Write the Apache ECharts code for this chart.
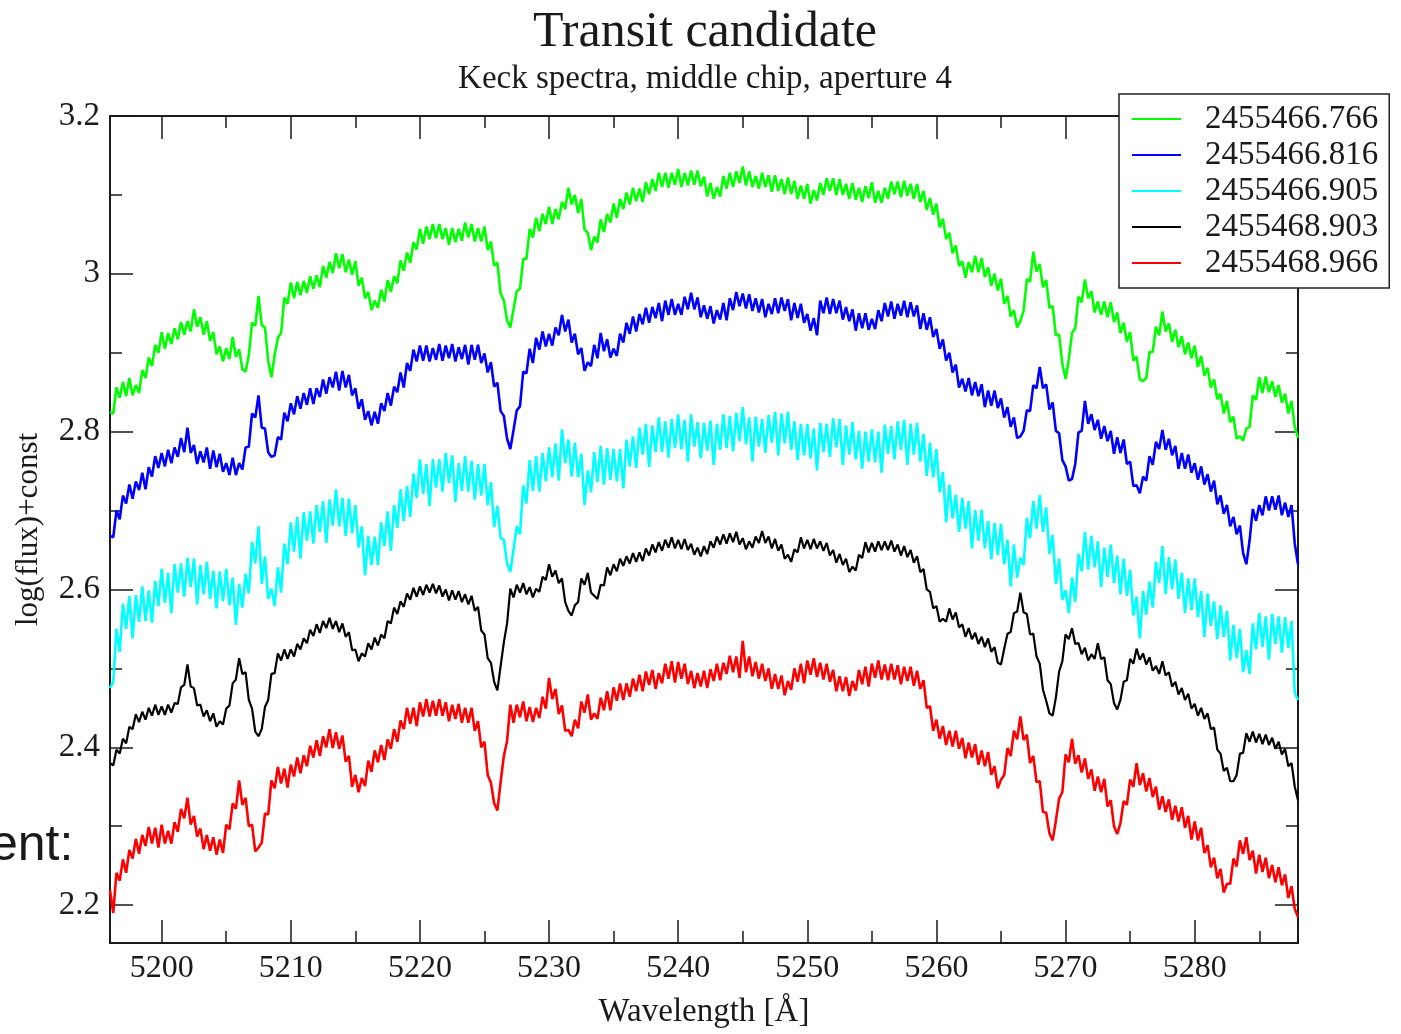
<!DOCTYPE html>
<html>
<head>
<meta charset="utf-8">
<title>Transit candidate</title>
<script src="https://cdn.jsdelivr.net/npm/echarts@6/dist/echarts.min.js"></script>
<style>
  html, body { margin: 0; padding: 0; background: #fff; }
  #chart { width: 1401px; height: 1034px; }
</style>
</head>
<body>
<div id="chart"></div>
<script>
// Spectra sampled every 0.25 Å from 5196 Å to 5288 Å (369 samples each).
const lambdaStart = 5196;
const lambdaStep = 0.25;

const seriesNames = ['2455466.766', '2455466.816', '2455466.905', '2455468.903', '2455468.966'];
const seriesColors = ['#00ff00', '#0000ff', '#00ffff', '#000000', '#ff0000'];

// log(flux)+const, JD 2455466.766 (one row = 5 Å)
const flux766 = [
  2.825, 2.823, 2.856, 2.843, 2.863, 2.845, 2.868, 2.846, 2.859, 2.849, 2.878, 2.868, 2.894, 2.883, 2.910, 2.900, 2.926, 2.905, 2.925, 2.911,
  2.931, 2.917, 2.939, 2.923, 2.940, 2.927, 2.955, 2.933, 2.945, 2.923, 2.940, 2.915, 2.926, 2.898, 2.908, 2.889, 2.906, 2.892, 2.920, 2.895,
  2.904, 2.879, 2.876, 2.897, 2.938, 2.934, 2.972, 2.935, 2.932, 2.890, 2.869, 2.897, 2.919, 2.925, 2.970, 2.962, 2.989, 2.969, 2.990, 2.973,
  2.991, 2.976, 2.997, 2.981, 2.998, 2.983, 3.010, 2.995, 3.015, 3.001, 3.026, 3.007, 3.025, 3.002, 3.018, 2.999, 3.016, 2.985, 2.995, 2.969,
  2.977, 2.954, 2.966, 2.957, 2.980, 2.965, 2.992, 2.977, 2.997, 2.988, 3.017, 3.004, 3.027, 3.014, 3.040, 3.031, 3.057, 3.038, 3.060, 3.044,
  3.063, 3.045, 3.063, 3.044, 3.058, 3.037, 3.058, 3.040, 3.057, 3.042, 3.065, 3.046, 3.063, 3.041, 3.058, 3.041, 3.060, 3.030, 3.041, 3.010,
  3.014, 2.975, 2.966, 2.941, 2.932, 2.955, 2.978, 2.981, 3.019, 3.019, 3.057, 3.046, 3.071, 3.054, 3.076, 3.063, 3.085, 3.063, 3.082, 3.069,
  3.091, 3.082, 3.109, 3.088, 3.100, 3.077, 3.095, 3.056, 3.052, 3.030, 3.047, 3.040, 3.069, 3.053, 3.076, 3.065, 3.089, 3.071, 3.095, 3.082,
  3.103, 3.088, 3.109, 3.092, 3.108, 3.091, 3.116, 3.101, 3.120, 3.105, 3.128, 3.110, 3.128, 3.109, 3.128, 3.113, 3.133, 3.110, 3.128, 3.112,
  3.131, 3.113, 3.131, 3.111, 3.123, 3.098, 3.115, 3.095, 3.110, 3.098, 3.124, 3.108, 3.128, 3.110, 3.130, 3.115, 3.136, 3.112, 3.130, 3.110,
  3.124, 3.108, 3.128, 3.110, 3.125, 3.104, 3.125, 3.105, 3.120, 3.101, 3.122, 3.101, 3.118, 3.095, 3.112, 3.095, 3.114, 3.089, 3.106, 3.093,
  3.115, 3.100, 3.121, 3.105, 3.121, 3.100, 3.120, 3.100, 3.114, 3.095, 3.115, 3.094, 3.109, 3.091, 3.111, 3.096, 3.116, 3.090, 3.105, 3.090,
  3.109, 3.095, 3.117, 3.101, 3.117, 3.097, 3.118, 3.099, 3.114, 3.095, 3.114, 3.091, 3.105, 3.081, 3.096, 3.075, 3.089, 3.059, 3.070, 3.044,
  3.052, 3.026, 3.036, 3.010, 3.016, 2.995, 3.015, 3.002, 3.023, 3.002, 3.020, 2.996, 3.008, 2.985, 3.000, 2.979, 2.994, 2.962, 2.972, 2.946,
  2.954, 2.932, 2.940, 2.953, 2.993, 2.990, 3.028, 3.003, 3.012, 2.983, 2.992, 2.957, 2.959, 2.922, 2.923, 2.886, 2.867, 2.891, 2.925, 2.931,
  2.971, 2.964, 2.993, 2.969, 2.978, 2.951, 2.965, 2.948, 2.965, 2.945, 2.964, 2.939, 2.951, 2.925, 2.938, 2.914, 2.926, 2.890, 2.895, 2.866,
  2.864, 2.868, 2.901, 2.901, 2.933, 2.922, 2.952, 2.927, 2.937, 2.914, 2.929, 2.907, 2.921, 2.898, 2.913, 2.893, 2.909, 2.882, 2.896, 2.871,
  2.881, 2.856, 2.866, 2.841, 2.848, 2.823, 2.839, 2.812, 2.819, 2.791, 2.794, 2.789, 2.804, 2.806, 2.846, 2.840, 2.869, 2.849, 2.870, 2.850,
  2.864, 2.844, 2.859, 2.837, 2.848, 2.823, 2.839, 2.806, 2.792
];

// log(flux)+const, JD 2455466.816
const flux816 = [
  2.668, 2.666, 2.700, 2.689, 2.719, 2.709, 2.733, 2.715, 2.737, 2.726, 2.748, 2.727, 2.755, 2.743, 2.769, 2.754, 2.773, 2.756, 2.777, 2.760,
  2.780, 2.768, 2.792, 2.774, 2.805, 2.773, 2.783, 2.759, 2.775, 2.761, 2.780, 2.753, 2.776, 2.755, 2.772, 2.749, 2.760, 2.745, 2.767, 2.745,
  2.760, 2.752, 2.780, 2.781, 2.823, 2.818, 2.846, 2.805, 2.804, 2.774, 2.768, 2.770, 2.793, 2.790, 2.824, 2.813, 2.836, 2.822, 2.845, 2.829,
  2.849, 2.834, 2.855, 2.835, 2.855, 2.844, 2.866, 2.848, 2.869, 2.856, 2.876, 2.852, 2.877, 2.856, 2.872, 2.846, 2.855, 2.829, 2.841, 2.815,
  2.826, 2.808, 2.825, 2.810, 2.836, 2.826, 2.849, 2.833, 2.857, 2.850, 2.875, 2.856, 2.887, 2.877, 2.904, 2.889, 2.909, 2.890, 2.909, 2.889,
  2.906, 2.891, 2.911, 2.890, 2.909, 2.893, 2.911, 2.889, 2.907, 2.892, 2.910, 2.885, 2.910, 2.891, 2.910, 2.887, 2.899, 2.875, 2.888, 2.857,
  2.862, 2.826, 2.820, 2.791, 2.778, 2.802, 2.827, 2.832, 2.876, 2.874, 2.905, 2.887, 2.919, 2.904, 2.927, 2.908, 2.924, 2.909, 2.932, 2.922,
  2.948, 2.927, 2.942, 2.913, 2.924, 2.898, 2.906, 2.877, 2.888, 2.883, 2.910, 2.893, 2.925, 2.902, 2.917, 2.894, 2.905, 2.896, 2.924, 2.913,
  2.938, 2.924, 2.946, 2.927, 2.949, 2.936, 2.957, 2.938, 2.958, 2.944, 2.963, 2.940, 2.966, 2.948, 2.968, 2.948, 2.962, 2.948, 2.971, 2.955,
  2.976, 2.955, 2.970, 2.945, 2.960, 2.943, 2.959, 2.937, 2.954, 2.942, 2.963, 2.941, 2.969, 2.954, 2.977, 2.959, 2.975, 2.956, 2.974, 2.953,
  2.969, 2.951, 2.968, 2.945, 2.962, 2.949, 2.969, 2.950, 2.970, 2.953, 2.968, 2.941, 2.963, 2.944, 2.962, 2.938, 2.949, 2.928, 2.944, 2.922,
  2.966, 2.950, 2.970, 2.949, 2.968, 2.950, 2.966, 2.942, 2.958, 2.940, 2.955, 2.928, 2.950, 2.931, 2.950, 2.929, 2.943, 2.930, 2.954, 2.940,
  2.963, 2.946, 2.965, 2.943, 2.962, 2.947, 2.966, 2.945, 2.964, 2.946, 2.960, 2.930, 2.950, 2.929, 2.945, 2.920, 2.930, 2.905, 2.917, 2.890,
  2.900, 2.875, 2.885, 2.856, 2.867, 2.851, 2.868, 2.846, 2.863, 2.845, 2.860, 2.831, 2.852, 2.833, 2.852, 2.830, 2.842, 2.818, 2.831, 2.806,
  2.818, 2.792, 2.794, 2.801, 2.827, 2.826, 2.859, 2.855, 2.882, 2.855, 2.860, 2.828, 2.837, 2.801, 2.798, 2.764, 2.756, 2.738, 2.740, 2.759,
  2.799, 2.801, 2.839, 2.810, 2.822, 2.802, 2.815, 2.791, 2.807, 2.788, 2.801, 2.772, 2.793, 2.773, 2.790, 2.759, 2.762, 2.731, 2.732, 2.722,
  2.743, 2.738, 2.769, 2.758, 2.787, 2.778, 2.802, 2.777, 2.791, 2.770, 2.782, 2.753, 2.773, 2.753, 2.771, 2.748, 2.760, 2.739, 2.756, 2.733,
  2.746, 2.724, 2.738, 2.708, 2.719, 2.696, 2.707, 2.680, 2.692, 2.670, 2.681, 2.646, 2.632, 2.662, 2.702, 2.687, 2.707, 2.694, 2.718, 2.700,
  2.718, 2.701, 2.719, 2.694, 2.710, 2.692, 2.707, 2.658, 2.632
];

// log(flux)+const, JD 2455466.905
const flux905 = [
  2.475, 2.483, 2.550, 2.521, 2.582, 2.550, 2.592, 2.538, 2.593, 2.559, 2.604, 2.560, 2.599, 2.558, 2.611, 2.579, 2.626, 2.583, 2.621, 2.570,
  2.632, 2.596, 2.633, 2.591, 2.640, 2.603, 2.639, 2.581, 2.631, 2.594, 2.635, 2.588, 2.624, 2.576, 2.623, 2.585, 2.626, 2.580, 2.615, 2.555,
  2.607, 2.577, 2.620, 2.595, 2.660, 2.633, 2.680, 2.607, 2.642, 2.588, 2.601, 2.579, 2.628, 2.596, 2.658, 2.632, 2.685, 2.648, 2.692, 2.639,
  2.698, 2.662, 2.699, 2.658, 2.707, 2.673, 2.712, 2.659, 2.714, 2.681, 2.727, 2.680, 2.716, 2.668, 2.715, 2.671, 2.707, 2.653, 2.680, 2.618,
  2.668, 2.631, 2.667, 2.631, 2.685, 2.655, 2.699, 2.649, 2.707, 2.678, 2.727, 2.687, 2.731, 2.692, 2.747, 2.716, 2.765, 2.721, 2.759, 2.706,
  2.765, 2.729, 2.765, 2.724, 2.773, 2.735, 2.770, 2.711, 2.760, 2.725, 2.769, 2.724, 2.763, 2.714, 2.759, 2.719, 2.759, 2.707, 2.736, 2.679,
  2.706, 2.665, 2.663, 2.633, 2.622, 2.651, 2.680, 2.670, 2.732, 2.709, 2.764, 2.725, 2.769, 2.724, 2.773, 2.737, 2.780, 2.742, 2.785, 2.738,
  2.803, 2.760, 2.790, 2.743, 2.786, 2.742, 2.772, 2.707, 2.751, 2.723, 2.774, 2.736, 2.782, 2.733, 2.779, 2.739, 2.778, 2.737, 2.778, 2.728,
  2.790, 2.756, 2.794, 2.754, 2.805, 2.771, 2.810, 2.755, 2.808, 2.774, 2.818, 2.774, 2.813, 2.767, 2.816, 2.779, 2.822, 2.778, 2.815, 2.762,
  2.822, 2.781, 2.812, 2.766, 2.811, 2.776, 2.814, 2.758, 2.810, 2.777, 2.822, 2.779, 2.820, 2.775, 2.824, 2.788, 2.831, 2.784, 2.818, 2.762,
  2.819, 2.781, 2.816, 2.773, 2.821, 2.786, 2.825, 2.770, 2.823, 2.785, 2.825, 2.777, 2.813, 2.764, 2.810, 2.770, 2.810, 2.766, 2.804, 2.751,
  2.811, 2.774, 2.810, 2.768, 2.817, 2.780, 2.816, 2.758, 2.808, 2.771, 2.812, 2.765, 2.801, 2.753, 2.800, 2.762, 2.803, 2.761, 2.800, 2.748,
  2.809, 2.772, 2.807, 2.765, 2.813, 2.777, 2.815, 2.758, 2.810, 2.771, 2.811, 2.762, 2.797, 2.744, 2.786, 2.742, 2.778, 2.723, 2.749, 2.685,
  2.733, 2.690, 2.720, 2.673, 2.716, 2.677, 2.712, 2.652, 2.701, 2.662, 2.701, 2.652, 2.687, 2.638, 2.684, 2.644, 2.683, 2.632, 2.663, 2.604,
  2.657, 2.615, 2.640, 2.631, 2.691, 2.665, 2.712, 2.677, 2.720, 2.673, 2.704, 2.645, 2.669, 2.607, 2.639, 2.587, 2.599, 2.570, 2.615, 2.584,
  2.645, 2.623, 2.673, 2.625, 2.668, 2.628, 2.661, 2.603, 2.653, 2.616, 2.657, 2.608, 2.643, 2.594, 2.639, 2.592, 2.625, 2.567, 2.591, 2.538,
  2.598, 2.568, 2.610, 2.577, 2.635, 2.608, 2.655, 2.594, 2.641, 2.600, 2.638, 2.588, 2.621, 2.570, 2.614, 2.574, 2.614, 2.565, 2.598, 2.540,
  2.595, 2.554, 2.585, 2.537, 2.580, 2.540, 2.573, 2.510, 2.555, 2.513, 2.550, 2.495, 2.523, 2.493, 2.557, 2.524, 2.570, 2.527, 2.566, 2.511,
  2.569, 2.531, 2.566, 2.520, 2.565, 2.526, 2.560, 2.469, 2.460
];

// log(flux)+const, JD 2455468.903
const flux903 = [
  2.380, 2.377, 2.397, 2.392, 2.411, 2.405, 2.426, 2.423, 2.442, 2.432, 2.445, 2.435, 2.450, 2.440, 2.454, 2.441, 2.452, 2.441, 2.454, 2.444,
  2.456, 2.455, 2.476, 2.479, 2.505, 2.477, 2.475, 2.453, 2.454, 2.439, 2.447, 2.433, 2.443, 2.426, 2.433, 2.429, 2.449, 2.453, 2.481, 2.486,
  2.513, 2.493, 2.495, 2.460, 2.449, 2.420, 2.414, 2.423, 2.451, 2.460, 2.493, 2.494, 2.519, 2.510, 2.524, 2.512, 2.524, 2.515, 2.531, 2.524,
  2.538, 2.532, 2.549, 2.541, 2.556, 2.545, 2.560, 2.551, 2.564, 2.550, 2.560, 2.546, 2.557, 2.540, 2.546, 2.523, 2.524, 2.509, 2.519, 2.515,
  2.532, 2.524, 2.539, 2.529, 2.543, 2.538, 2.560, 2.557, 2.577, 2.569, 2.585, 2.578, 2.595, 2.587, 2.602, 2.591, 2.604, 2.593, 2.606, 2.596,
  2.607, 2.595, 2.605, 2.591, 2.600, 2.586, 2.599, 2.587, 2.598, 2.584, 2.594, 2.581, 2.592, 2.573, 2.578, 2.548, 2.543, 2.513, 2.507, 2.483,
  2.472, 2.503, 2.533, 2.557, 2.601, 2.590, 2.606, 2.596, 2.608, 2.594, 2.603, 2.590, 2.601, 2.597, 2.616, 2.612, 2.632, 2.616, 2.624, 2.608,
  2.614, 2.584, 2.573, 2.567, 2.580, 2.584, 2.614, 2.606, 2.621, 2.596, 2.592, 2.588, 2.606, 2.605, 2.628, 2.618, 2.632, 2.623, 2.639, 2.630,
  2.642, 2.633, 2.646, 2.635, 2.647, 2.636, 2.652, 2.643, 2.657, 2.647, 2.660, 2.649, 2.663, 2.653, 2.666, 2.652, 2.663, 2.651, 2.664, 2.650,
  2.658, 2.644, 2.653, 2.642, 2.655, 2.645, 2.661, 2.653, 2.667, 2.657, 2.670, 2.658, 2.671, 2.660, 2.673, 2.657, 2.665, 2.651, 2.661, 2.653,
  2.667, 2.659, 2.674, 2.659, 2.667, 2.652, 2.664, 2.649, 2.657, 2.639, 2.644, 2.635, 2.651, 2.647, 2.666, 2.652, 2.663, 2.651, 2.664, 2.652,
  2.661, 2.649, 2.659, 2.643, 2.650, 2.634, 2.645, 2.631, 2.639, 2.622, 2.629, 2.624, 2.644, 2.640, 2.660, 2.647, 2.659, 2.648, 2.661, 2.650,
  2.661, 2.650, 2.662, 2.648, 2.657, 2.643, 2.655, 2.641, 2.650, 2.634, 2.642, 2.622, 2.626, 2.600, 2.597, 2.576, 2.579, 2.559, 2.563, 2.559,
  2.576, 2.562, 2.571, 2.552, 2.556, 2.540, 2.551, 2.537, 2.545, 2.531, 2.540, 2.527, 2.538, 2.521, 2.527, 2.507, 2.505, 2.525, 2.544, 2.546,
  2.570, 2.572, 2.596, 2.571, 2.569, 2.543, 2.544, 2.515, 2.506, 2.473, 2.459, 2.443, 2.440, 2.463, 2.496, 2.509, 2.543, 2.537, 2.551, 2.531,
  2.532, 2.518, 2.526, 2.510, 2.518, 2.512, 2.532, 2.512, 2.514, 2.485, 2.480, 2.456, 2.448, 2.460, 2.483, 2.485, 2.512, 2.506, 2.525, 2.511,
  2.519, 2.505, 2.514, 2.497, 2.503, 2.493, 2.509, 2.491, 2.495, 2.477, 2.483, 2.467, 2.475, 2.460, 2.468, 2.449, 2.455, 2.440, 2.450, 2.436,
  2.443, 2.423, 2.425, 2.397, 2.392, 2.370, 2.374, 2.357, 2.357, 2.365, 2.392, 2.393, 2.418, 2.407, 2.420, 2.406, 2.417, 2.404, 2.416, 2.403,
  2.412, 2.398, 2.407, 2.391, 2.398, 2.376, 2.380, 2.350, 2.333
];

// log(flux)+const, JD 2455468.966
const flux966 = [
  2.219, 2.190, 2.241, 2.231, 2.258, 2.241, 2.270, 2.259, 2.284, 2.265, 2.289, 2.275, 2.299, 2.278, 2.298, 2.273, 2.302, 2.278, 2.294, 2.278,
  2.305, 2.293, 2.322, 2.310, 2.336, 2.302, 2.313, 2.287, 2.297, 2.271, 2.289, 2.269, 2.286, 2.264, 2.283, 2.266, 2.302, 2.296, 2.329, 2.322,
  2.358, 2.327, 2.336, 2.300, 2.302, 2.268, 2.273, 2.279, 2.316, 2.315, 2.358, 2.348, 2.375, 2.354, 2.373, 2.349, 2.378, 2.363, 2.387, 2.367,
  2.390, 2.376, 2.402, 2.387, 2.409, 2.389, 2.414, 2.400, 2.423, 2.399, 2.419, 2.398, 2.415, 2.382, 2.389, 2.350, 2.365, 2.343, 2.361, 2.351,
  2.383, 2.369, 2.396, 2.381, 2.403, 2.384, 2.410, 2.398, 2.423, 2.407, 2.434, 2.423, 2.450, 2.430, 2.450, 2.427, 2.457, 2.439, 2.461, 2.439,
  2.459, 2.440, 2.461, 2.440, 2.457, 2.433, 2.454, 2.436, 2.455, 2.431, 2.450, 2.431, 2.450, 2.421, 2.433, 2.400, 2.407, 2.365, 2.355, 2.329,
  2.320, 2.356, 2.389, 2.408, 2.454, 2.431, 2.454, 2.438, 2.458, 2.433, 2.451, 2.432, 2.450, 2.437, 2.464, 2.449, 2.488, 2.461, 2.474, 2.442,
  2.453, 2.421, 2.422, 2.414, 2.435, 2.424, 2.458, 2.444, 2.467, 2.435, 2.443, 2.436, 2.463, 2.447, 2.471, 2.447, 2.476, 2.459, 2.481, 2.460,
  2.481, 2.464, 2.487, 2.471, 2.492, 2.471, 2.496, 2.479, 2.498, 2.474, 2.494, 2.481, 2.506, 2.487, 2.509, 2.482, 2.508, 2.487, 2.506, 2.480,
  2.497, 2.475, 2.494, 2.477, 2.497, 2.475, 2.499, 2.484, 2.506, 2.485, 2.507, 2.493, 2.516, 2.495, 2.515, 2.488, 2.535, 2.495, 2.515, 2.490,
  2.508, 2.487, 2.506, 2.484, 2.500, 2.474, 2.493, 2.474, 2.491, 2.466, 2.484, 2.473, 2.500, 2.483, 2.506, 2.481, 2.510, 2.492, 2.513, 2.489,
  2.507, 2.486, 2.506, 2.483, 2.498, 2.471, 2.490, 2.471, 2.489, 2.465, 2.484, 2.472, 2.498, 2.480, 2.502, 2.477, 2.506, 2.488, 2.510, 2.486,
  2.505, 2.485, 2.506, 2.486, 2.504, 2.480, 2.502, 2.484, 2.502, 2.478, 2.497, 2.474, 2.485, 2.450, 2.452, 2.421, 2.435, 2.411, 2.427, 2.403,
  2.421, 2.401, 2.421, 2.398, 2.412, 2.386, 2.406, 2.387, 2.404, 2.378, 2.396, 2.376, 2.394, 2.365, 2.376, 2.348, 2.359, 2.365, 2.399, 2.389,
  2.421, 2.410, 2.439, 2.409, 2.416, 2.380, 2.389, 2.356, 2.357, 2.318, 2.317, 2.291, 2.282, 2.307, 2.335, 2.343, 2.391, 2.381, 2.411, 2.379,
  2.390, 2.368, 2.386, 2.360, 2.372, 2.345, 2.363, 2.343, 2.360, 2.325, 2.333, 2.300, 2.290, 2.304, 2.332, 2.327, 2.359, 2.350, 2.380, 2.352,
  2.367, 2.344, 2.361, 2.337, 2.350, 2.321, 2.338, 2.318, 2.334, 2.308, 2.326, 2.306, 2.324, 2.298, 2.313, 2.283, 2.306, 2.282, 2.298, 2.266,
  2.276, 2.248, 2.260, 2.234, 2.246, 2.216, 2.227, 2.227, 2.259, 2.249, 2.282, 2.265, 2.286, 2.257, 2.269, 2.240, 2.264, 2.242, 2.260, 2.234,
  2.251, 2.229, 2.248, 2.225, 2.239, 2.209, 2.224, 2.195, 2.185
];

// Axis ranges and tick positions
const xRange = [5196, 5288];
const yRange = [2.152, 3.2];
const xMajorTicks = [5200, 5210, 5220, 5230, 5240, 5250, 5260, 5270, 5280];
const xMinorTicks = [5205, 5215, 5225, 5235, 5245, 5255, 5265, 5275, 5285];
const yMajorTicks = [2.2, 2.4, 2.6, 2.8, 3.0, 3.2];
const yMinorTicks = [2.3, 2.5, 2.7, 2.9, 3.1];

const allFlux = [flux766, flux816, flux905, flux903, flux966];
const lineWidths = [2.6, 2.6, 2.6, 2.2, 2.6];

const SERIF = '"Liberation Serif", "Times New Roman", Times, serif';
const INK = '#1a1a1a';

function pairUp(values) {
  return values.map((v, i) => [lambdaStart + i * lambdaStep, v]);
}

function xAxisDef(position, ticks, tickLen, withLabels) {
  const ax = {
    type: 'value', position: position, min: xRange[0], max: xRange[1],
    axisLine: { show: true, onZero: false, lineStyle: { color: INK, width: 2 } },
    axisTick: { show: true, inside: true, length: tickLen, customValues: ticks,
                lineStyle: { color: INK, width: 1.5 } },
    axisLabel: { show: false },
    splitLine: { show: false }
  };
  if (withLabels) {
    ax.axisLabel = { show: true, customValues: ticks, margin: 10,
                     fontFamily: SERIF, fontSize: 32, color: INK,
                     formatter: v => String(v) };
    ax.name = 'Wavelength [Å]';
    ax.nameLocation = 'middle';
    ax.nameGap = 53;
    ax.nameTextStyle = { fontFamily: SERIF, fontSize: 33, color: INK };
  }
  return ax;
}

function yAxisDef(position, ticks, tickLen, withLabels) {
  const ax = {
    type: 'value', position: position, min: yRange[0], max: yRange[1],
    axisLine: { show: true, onZero: false, lineStyle: { color: INK, width: 2 } },
    axisTick: { show: true, inside: true, length: tickLen, customValues: ticks,
                lineStyle: { color: INK, width: 1.5 } },
    axisLabel: { show: false },
    splitLine: { show: false }
  };
  if (withLabels) {
    ax.axisLabel = { show: true, customValues: ticks, margin: 10,
                     fontFamily: SERIF, fontSize: 33, color: INK,
                     formatter: v => String(v) };
    ax.name = 'log(flux)+const';
    ax.nameLocation = 'middle';
    ax.nameGap = 66;
    ax.nameTextStyle = { fontFamily: SERIF, fontSize: 31, color: INK };
  }
  return ax;
}

const chart = echarts.init(document.getElementById('chart'), null, { renderer: 'canvas' });

chart.setOption({
  animation: false,
  backgroundColor: '#fff',
  title: [
    { text: 'Transit candidate', left: 705, top: 8, textAlign: 'center', padding: 0,
      textStyle: { fontFamily: SERIF, fontSize: 50, fontWeight: 'normal', color: INK } },
    { text: 'Keck spectra, middle chip, aperture 4', left: 705, top: 63, textAlign: 'center', padding: 0,
      textStyle: { fontFamily: SERIF, fontSize: 33, fontWeight: 'normal', color: INK } }
  ],
  grid: { left: 110, right: 103, top: 116, bottom: 86, containLabel: false },
  xAxis: [
    xAxisDef('bottom', xMajorTicks, 23, true),
    xAxisDef('bottom', xMinorTicks, 12, false),
    xAxisDef('top', xMajorTicks, 23, false),
    xAxisDef('top', xMinorTicks, 12, false)
  ],
  yAxis: [
    yAxisDef('left', yMajorTicks, 23, true),
    yAxisDef('left', yMinorTicks, 12, false),
    yAxisDef('right', yMajorTicks, 23, false),
    yAxisDef('right', yMinorTicks, 12, false)
  ],
  legend: {
    data: seriesNames,
    orient: 'vertical',
    left: 1119, top: 94,
    padding: [7, 11, 7, 13],
    itemGap: 0,
    icon: 'rect',
    itemWidth: 49, itemHeight: 2,
    backgroundColor: '#fff',
    borderColor: '#222', borderWidth: 1.5, borderRadius: 0,
    selectedMode: false,
    textStyle: { fontFamily: SERIF, fontSize: 33, color: INK, lineHeight: 36, padding: [0, 0, 0, 19] },
    z: 20
  },
  graphic: [
    { type: 'text', x: -10, y: 846, z: 30,
      style: { text: 'ent:', font: '50px "Liberation Sans", Arial, sans-serif',
               fill: '#1a1a1a', verticalAlign: 'middle', align: 'left' } }
  ],
  series: seriesNames.map((name, k) => ({
    name: name,
    type: 'line',
    xAxisIndex: 0, yAxisIndex: 0,
    data: pairUp(allFlux[k]),
    symbol: 'none',
    showSymbol: false,
    clip: true,
    color: seriesColors[k],
    lineStyle: { color: seriesColors[k], width: lineWidths[k] },
    emphasis: { disabled: true },
    z: 2 + k
  }))
});
</script>
</body>
</html>
